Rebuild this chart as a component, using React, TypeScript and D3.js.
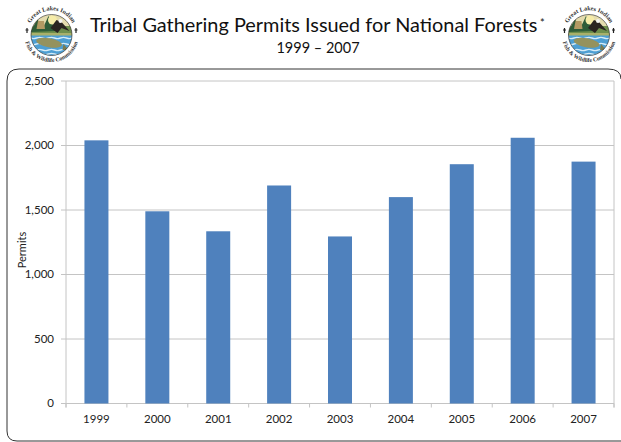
import React from "react";
import * as d3 from "d3";

const years = ["1999", "2000", "2001", "2002", "2003", "2004", "2005", "2006", "2007"];
const permits = [2040, 1490, 1335, 1690, 1295, 1600, 1855, 2060, 1875];
const yTicks = [0, 500, 1000, 1500, 2000, 2500];

const FONT = "Lato, 'Open Sans', sans-serif";
const W = 621, H = 442;
const L = 66, R = 614, T = 81, B = 403.5;

function Logo({ cx, cy, id }: { cx: number; cy: number; id: string }) {
  const r = 28.5;
  const ri = 20.5;
  const wave = (y: number) =>
    d3.line().curve(d3.curveBasis)(
      [-24, -18, -12, -6, 0, 6, 12, 18, 24].map((x, i) => [x, y + (i % 2 ? 1.6 : -1.6)] as [number, number])
    ) as string;
  return (
    <g transform={`translate(${cx},${cy})`}>
      <circle r={r} fill="#fff" />
      <clipPath id={`${id}-clip`}><circle r={ri} /></clipPath>
      <g clipPath={`url(#${id}-clip)`}>
        <rect x={-22} y={-22} width={44} height={18} fill="#e4dcae" />
        <rect x={-22} y={-9} width={44} height={9} fill="#6f8f4c" />
        <rect x={-22} y={0} width={44} height={22} fill="#4e9fd3" />
        <path d="M-21,-3 L-14,-16 L-9,-6 L-3,-19 L5,-4 Z" fill="#2f5d38" />
        <circle cx={1} cy={-15} r={4.5} fill="#f6eca8" />
        <path d="M-15,-6 l1.5,-8 l6,0 l1,8 Z" fill="#b39a63" />
        <path d="M-1,-7 L5,-15 L10,-13 L18,-4 L10,-7 L6,-2 Z" fill="#2a2420" />
        <circle cx={9} cy={-14} r={2} fill="#f4f4f0" />
        <rect x={-22} y={-2} width={44} height={2.5} fill="#a9b06a" />
        {[3, 9, 15, 19].map((y) => (
          <path key={y} d={wave(y)} fill="none" stroke="#d5ecf8" strokeWidth={1.3} />
        ))}
        <ellipse cx={-1} cy={8} rx={13} ry={4.5} fill="#94925e" transform="rotate(10)" />
        <path d="M12,9 l5,6 l-6,0 Z" fill="#7d7b4e" />
      </g>
      <circle r={ri} fill="none" stroke="#222" strokeWidth={0.6} />
      <path id={`${id}-top`} d="M-22.5,-8 A23.5,23.5 0 0 1 22.5,-8" fill="none" />
      <path id={`${id}-bot`} d="M-26.5,6 A27.2,27.2 0 0 0 26.5,6" fill="none" />
      <text fontFamily="'Liberation Serif', serif" fontWeight="bold" fontSize={6.2} fill="#333">
        <textPath href={`#${id}-top`} startOffset="50%" textAnchor="middle">Great Lakes Indian</textPath>
      </text>
      <text fontFamily="'Liberation Serif', serif" fontWeight="bold" fontSize={5.8} fill="#333">
        <textPath href={`#${id}-bot`} startOffset="50%" textAnchor="middle">Fish &amp; Wildlife Commission</textPath>
      </text>
      <path d="M-26,-5 l3,0 M-24.5,-7 l0,5 M23,-5 l3,0 M24.5,-7 l0,5" stroke="#222" strokeWidth={1.2} />
    </g>
  );
}

export default function App() {
  const x = d3.scaleBand<string>().domain(years).range([L, R]);
  const y = d3.scaleLinear().domain([0, 2500]).range([B, T]);
  const barW = 24;
  const edges = [...years.map((d) => x(d) as number), R];
  return (
    <svg
      width={W}
      height={H}
      viewBox={`0 0 ${W} ${H}`}
      style={{ position: "absolute", left: 0, top: 0, background: "#fff" }}
      fontFamily={FONT}
    >
      <Logo cx={51.5} cy={35} id="logoL" />
      <Logo cx={589} cy={35} id="logoR" />

      <text x={90} y={32} fontSize={19.9} fill="#111">
        Tribal Gathering Permits Issued for National Forests
      </text>
      <text x={540} y={27} fontSize={11} fill="#111">*</text>
      <text x={318} y={53} textAnchor="middle" fontSize={14.5} fill="#111">1999 – 2007</text>

      <path
        d={`M${W + 2},${H - 1} L17,${H - 1} Q7,${H - 1} 7,${H - 11} L7,81 Q7,69 19,69 L608,69 Q621,69 621,79`}
        fill="none"
        stroke="#333"
        strokeWidth={1}
      />

      <g stroke="#c4c4c4" strokeWidth={1} fill="none">
        {yTicks.filter((t) => t > 0).map((t) => (
          <line key={t} x1={L} x2={R} y1={y(t)} y2={y(t)} />
        ))}
        <line x1={L} x2={L} y1={T} y2={B + 4} />
        <line x1={R} x2={R} y1={T} y2={B + 4} />
        <line x1={L} x2={R} y1={B} y2={B} />
        {yTicks.map((t) => (
          <line key={t} x1={L - 5} x2={L} y1={y(t)} y2={y(t)} />
        ))}
        {edges.map((e, i) => (
          <line key={i} x1={e} x2={e} y1={B} y2={B + 4} />
        ))}
      </g>

      {years.map((yr, i) => (
        <rect
          key={yr}
          x={(x(yr) as number) + x.bandwidth() / 2 - barW / 2}
          y={y(permits[i])}
          width={barW}
          height={B - y(permits[i])}
          fill="#4f81bd"
        />
      ))}

      {yTicks.map((t) => (
        <text key={t} x={54} y={y(t) + 3.5} textAnchor="end" fontSize={11.5} fill="#222">
          {d3.format(",")(t)}
        </text>
      ))}
      {years.map((yr) => (
        <text
          key={yr}
          x={(x(yr) as number) + x.bandwidth() / 2}
          y={423}
          textAnchor="middle"
          fontSize={11.5}
          fill="#222"
        >
          {yr}
        </text>
      ))}
      <text transform="translate(26,250) rotate(-90)" textAnchor="middle" fontSize={11} fill="#222">
        Permits
      </text>
    </svg>
  );
}
